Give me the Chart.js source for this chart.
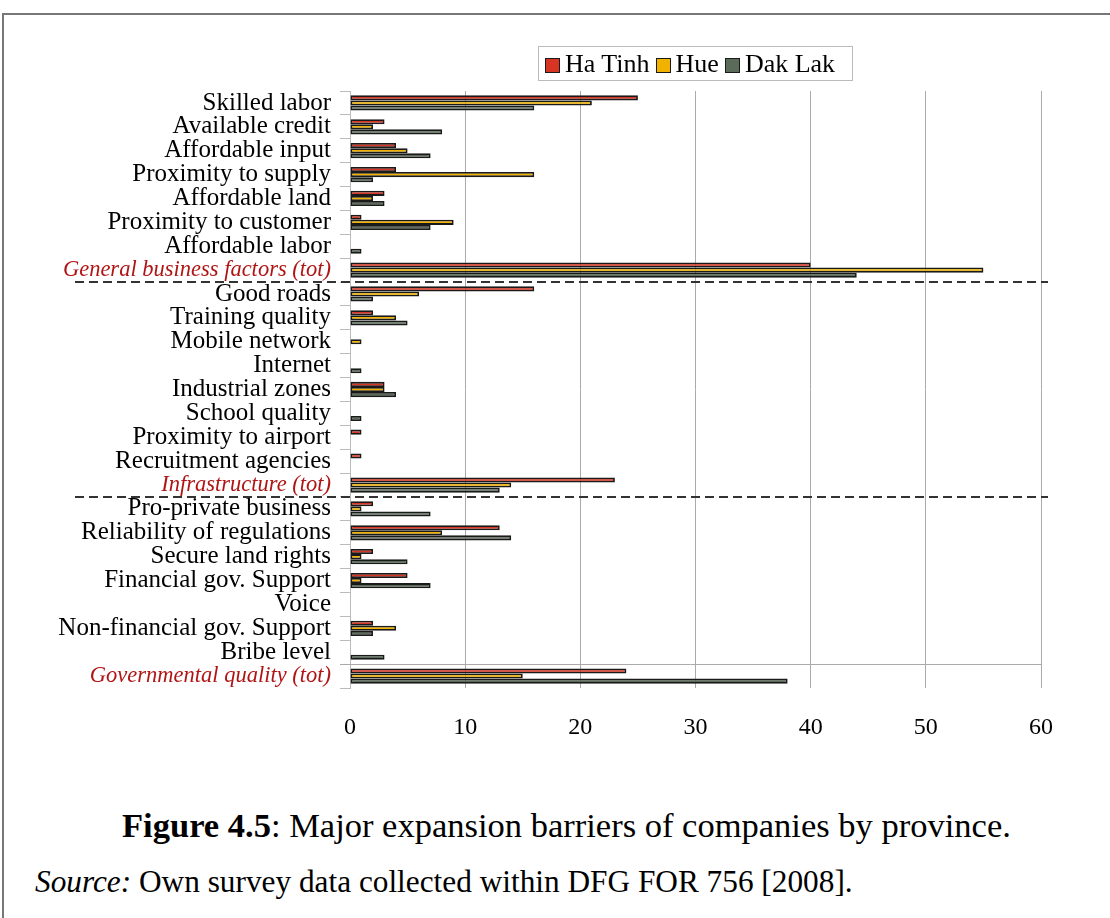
<!DOCTYPE html>
<html>
<head>
<meta charset="utf-8">
<script src="https://cdn.jsdelivr.net/npm/chart.js@4"></script>
<style>
  body { margin: 0; background: #fff; }
  .frame { position: absolute; left: 2px; top: 13px; width: 1120px; height: 920px;
           border-top: 2px solid #777; border-left: 2px solid #777; }
  .wrap { position: absolute; left: 0; top: 0; width: 1110px; height: 760px; }
  .legend { position: absolute; left: 538px; top: 46px; width: 313px; height: 33px;
            border: 1px solid #bbb; font-family: "Liberation Serif", serif; font-size: 26px;
            line-height: 33px; white-space: nowrap; }
  .legend span.sw { display: inline-block; width: 13px; height: 13px; border: 1.5px solid #1a1a1a;
                    vertical-align: -1px; margin: 0 5px 0 6px; }
  .caption { position: absolute; top: 808px; left: 122px;
             font-family: "Liberation Serif", serif; font-size: 31px; white-space: nowrap; }
  .source { position: absolute; top: 867px; left: 35px; font-family: "Liberation Serif", serif;
            font-size: 26px; white-space: nowrap; }
</style>
</head>
<body>
<div class="frame"></div>
<div class="wrap"><canvas id="chart"></canvas></div>
<div class="legend"><span class="sw" style="background:#d83424"></span>Ha Tinh<span class="sw" style="background:#f2b300"></span>Hue<span class="sw" style="background:#5b6b5a"></span>Dak Lak</div>
<div class="caption" id="caption"><b>Figure 4.5</b>: Major expansion barriers of companies by province.</div>
<div class="source" id="source"><i>Source:</i> Own survey data collected within DFG FOR 756 [2008].</div>
<script>
const categories = [
  'Skilled labor', 'Available credit', 'Affordable input', 'Proximity to supply',
  'Affordable land', 'Proximity to customer', 'Affordable labor', 'General business factors (tot)',
  'Good roads', 'Training quality', 'Mobile network', 'Internet', 'Industrial zones',
  'School quality', 'Proximity to airport', 'Recruitment agencies', 'Infrastructure (tot)',
  'Pro-private business', 'Reliability of regulations', 'Secure land rights',
  'Financial gov. Support', 'Voice', 'Non-financial gov. Support', 'Bribe level',
  'Governmental quality (tot)'
];
const haTinh = [25, 3, 4, 4, 3, 1, 0, 40, 16, 2, 0, 0, 3, 0, 1, 1, 23, 2, 13, 2, 5, 0, 2, 0, 24];
const hue    = [21, 2, 5, 16, 2, 9, 0, 55, 6, 4, 1, 0, 3, 0, 0, 0, 14, 1, 8, 1, 1, 0, 4, 0, 15];
const dakLak = [16, 8, 7, 2, 3, 7, 1, 44, 2, 5, 0, 1, 4, 1, 0, 0, 13, 7, 14, 5, 7, 0, 2, 3, 38];
const xTicks = [0, 10, 20, 30, 40, 50, 60];

const totals = ['General business factors (tot)', 'Infrastructure (tot)', 'Governmental quality (tot)'];
const serif = '"Liberation Serif", "Times New Roman", serif';

// separator lines between groups
const separators = {
  id: 'separators',
  afterDatasetsDraw(chart) {
    const y = chart.scales.y, c = chart.ctx, a = chart.chartArea;
    const mid = i => (y.getPixelForValue(i) + y.getPixelForValue(i + 1)) / 2;
    c.save();
    c.strokeStyle = '#333';
    c.lineWidth = 2;
    c.setLineDash([9, 5]);
    [7, 16].forEach(i => {
      const py = Math.round(mid(i));
      c.beginPath();
      c.moveTo(75, py);
      c.lineTo(a.right + 7, py);
      c.stroke();
    });
    c.setLineDash([]);
    c.lineWidth = 1;
    c.strokeStyle = '#aaa';
    const py = Math.round(mid(23)) + 0.5;
    c.beginPath();
    c.moveTo(a.left - 10, py);
    c.lineTo(a.right, py);
    c.stroke();
    c.restore();
  }
};

const ds = (label, data, color) => ({
  label, data,
  backgroundColor: color,
  borderColor: '#1a1a1a',
  borderWidth: 1.8,
  borderSkipped: false,
  categoryPercentage: 0.64,
  barPercentage: 1
});

new Chart(document.getElementById('chart'), {
  type: 'bar',
  data: {
    labels: categories,
    datasets: [
      ds('Ha Tinh', haTinh, '#d83424'),
      ds('Hue', hue, '#f2b300'),
      ds('Dak Lak', dakLak, '#5b6b5a')
    ]
  },
  options: {
    indexAxis: 'y',
    responsive: true,
    maintainAspectRatio: false,
    animation: false,
    layout: { padding: { top: 91, right: 69, left: 0, bottom: 0 } },
    plugins: { legend: { display: false }, tooltip: { enabled: false } },
    scales: {
      x: {
        min: 0, max: 60,
        afterFit(s) { s.height = 72; },
        afterBuildTicks(s) { s.ticks = xTicks.map(v => ({ value: v })); },
        grid: { color: '#aaa', drawTicks: false },
        border: { display: false },
        ticks: { padding: 25, color: '#000', font: { family: serif, size: 24 } }
      },
      y: {
        afterFit(s) { s.width = 350; },
        grid: { drawOnChartArea: false, color: '#bbb', tickLength: 10 },
        border: { color: '#bbb' },
        ticks: {
          padding: 9,
          autoSkip: false,
          color: ctx => totals.includes(categories[ctx.index]) ? '#b01515' : '#000',
          font: ctx => ({
            family: serif,
            size: totals.includes(categories[ctx.index]) ? 22.5 : 25,
            style: totals.includes(categories[ctx.index]) ? 'italic' : 'normal'
          })
        }
      }
    }
  },
  plugins: [separators]
});

// fit caption lines to the widths of the original
function fitWidth(el, target) {
  const fs = parseFloat(getComputedStyle(el).fontSize);
  const w = el.getBoundingClientRect().width;
  const size = fs * target / w;
  el.style.fontSize = size + 'px';
  el.style.marginTop = ((fs - size) * 0.6) + 'px';
}
fitWidth(document.getElementById('caption'), 889);
fitWidth(document.getElementById('source'), 818);
</script>
</body>
</html>
